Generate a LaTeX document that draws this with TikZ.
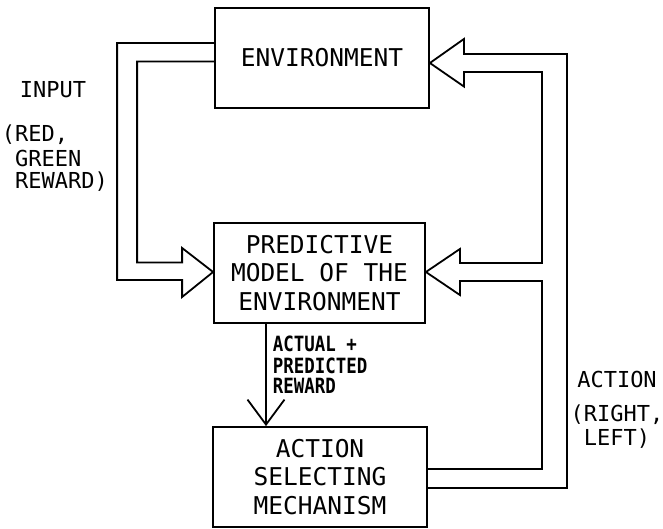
\documentclass[tikz,border=0pt]{standalone}
\usepackage{fontspec}
\setmainfont{DejaVu Sans Mono}
\newfontfamily\narrowmono[FakeStretch=0.83]{DejaVu Sans Mono}
\usetikzlibrary{arrows.meta}
\begin{document}
\begin{tikzpicture}[x=1pt,y=-1pt,line width=1.8pt,
  box/.style={draw,inner sep=0pt,minimum height=100pt,align=center,font=\fontsize{24.5}{28.5}\selectfont},
  lbl/.style={inner sep=0pt,anchor=base,font=\fontsize{22}{26}\selectfont},
  lblw/.style={inner sep=0pt,anchor=base west,font=\fontsize{22}{26}\selectfont},
  sml/.style={inner sep=0pt,anchor=base west,font=\narrowmono\bfseries\fontsize{21}{22}\selectfont},
  hollow/.style={line join=miter},
  flow/.style={-{Straight Barb[length=25pt,width=37pt]}}]
\useasboundingbox (0,0) rectangle (663,529);
% boxes
\node[box,minimum width=214pt] (env) at (322,58) {ENVIRONMENT};
\node[box,minimum width=211pt] (pred) at (319.5,273) {PREDICTIVE\\MODEL OF THE\\ENVIRONMENT};
\node[box,minimum width=214pt] (act) at (320,477) {ACTION\\SELECTING\\MECHANISM};
% input hollow arrow (environment -> model)
\draw[hollow] (env.west) ++(0,-15) -- ++(-97,0) -- ++(0,237) -- ++(65,0) -- ++(0,17)
  -- ([yshift=1pt]pred.west) -- ++(-31,-24) -- ++(0,14.5) -- ++(-45,0) -- ++(0,-201) -- ++(77,0);
% action hollow arrow (mechanism -> environment and model)
\draw[hollow] (act.east) ++(0,11) -- ++(139,0) -- ++(0,-434) -- ++(-103,0) -- ++(0,-15)
  -- ([yshift=-5pt]env.east) -- ++(34,23.5) -- ++(0,-14.5) -- ++(78,0) -- ++(0,191)
  -- ++(-82,0) -- ++(0,-14) -- ([yshift=1pt]pred.east) -- ++(34,23) -- ++(0,-14)
  -- ++(82,0) -- ++(0,188) -- ++(-114,0);
% reward arrow
\draw[flow] ([xshift=-53.5pt]pred.south) -- ([xshift=-54pt]act.north);
% labels
\node[lbl] (lin) at (53,98) {INPUT};
\node[lblw] (lin1) at (1,142) {(RED,};
\node[lblw] (lin2) at (1,167) {\hphantom{(}GREEN};
\node[lblw] (lin3) at (1,189) {\hphantom{(}REWARD)};
\node[lbl] (lact) at (617,387) {ACTION};
\node[lbl] (lact1) at (617,421) {(RIGHT,};
\node[lbl] (lact2) at (617,445) {LEFT)};
\node[sml] (lrw1) at (272,351) {ACTUAL +};
\node[sml] (lrw2) at (272,373) {PREDICTED};
\node[sml] (lrw3) at (272,393) {REWARD};
\end{tikzpicture}
\end{document}
